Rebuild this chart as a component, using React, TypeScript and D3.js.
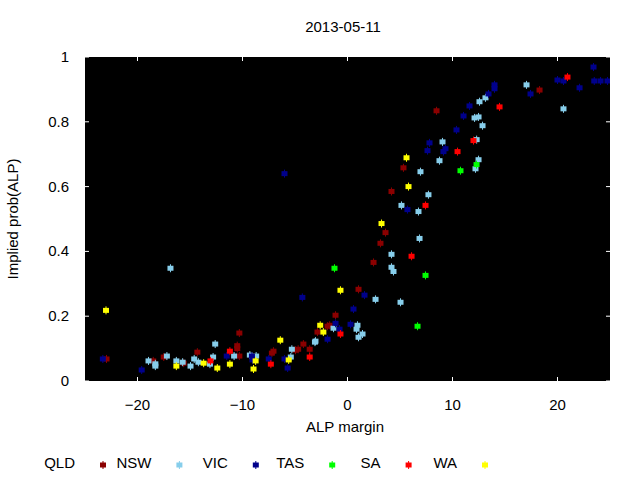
import React from "react";
import * as d3 from "d3";

type Pt = [number, number];

// 시리즈별 데이터 (ALP margin, implied prob)
const qld: Pt[] = [
  [-22.95, 0.068], [-18.5, 0.062], [-17.5, 0.074], [-15.6, 0.055], [-14.3, 0.089],
  [-10.3, 0.077], [-10.5, 0.109], [-10.5, 0.1], [-10.3, 0.148], [-7.2, 0.086],
  [-7.05, 0.092], [-4.95, 0.095], [-4.7, 0.098], [-4.2, 0.114], [-3.6, 0.098],
  [-2.86, 0.151], [-1.9, 0.169], [-1.7, 0.172], [-1.14, 0.203], [1.05, 0.283],
  [2.48, 0.366], [3.14, 0.425], [3.62, 0.458], [4.19, 0.585], [5.33, 0.658],
  [8.48, 0.834], [18.29, 0.898],
];
const nsw: Pt[] = [
  [-16.86, 0.348], [-18.95, 0.062], [-18.3, 0.053], [-18.3, 0.046], [-17.2, 0.077],
  [-16.3, 0.062], [-15.7, 0.058], [-14.95, 0.046], [-14.6, 0.068], [-14.2, 0.058],
  [-13.1, 0.052], [-12.8, 0.074], [-12.6, 0.114], [-10.8, 0.077], [-9.3, 0.08],
  [-8.7, 0.077], [-5.4, 0.074], [-5.3, 0.098], [-3.1, 0.12], [-3.05, 0.123],
  [-1.33, 0.163], [0.86, 0.16], [0.95, 0.172], [1.05, 0.135], [1.43, 0.145],
  [2.67, 0.252], [4.19, 0.391], [4.19, 0.351], [4.38, 0.338], [5.05, 0.243],
  [5.14, 0.542], [6.76, 0.523], [6.86, 0.44], [6.95, 0.646], [7.71, 0.575],
  [8.76, 0.68], [9.05, 0.738], [12.1, 0.812], [12.48, 0.815], [12.3, 0.745],
  [12.48, 0.683], [12.19, 0.655], [12.57, 0.862], [12.86, 0.788], [13.14, 0.874],
  [17.05, 0.914], [20.57, 0.84],
];
const vic: Pt[] = [
  [-23.3, 0.068], [-19.6, 0.034], [-11.5, 0.077], [-9.1, 0.077], [-9.05, 0.065],
  [-7.5, 0.068], [-6.0, 0.068], [-5.7, 0.04], [-6.0, 0.64], [-4.3, 0.258],
  [-1.9, 0.129], [-1.14, 0.178], [-0.76, 0.16], [0.29, 0.175], [0.57, 0.222],
  [1.62, 0.265], [5.71, 0.529], [7.62, 0.711], [7.81, 0.735], [9.14, 0.708],
  [9.33, 0.717], [10.38, 0.775], [11.05, 0.818], [11.62, 0.849], [13.43, 0.886],
  [14.0, 0.914], [14.0, 0.902], [17.43, 0.886], [20.0, 0.929], [20.57, 0.926],
  [22.1, 0.905], [23.43, 0.969], [23.5, 0.926], [24.1, 0.926], [24.76, 0.926],
];
const tas: Pt[] = [
  [-1.24, 0.348], [6.67, 0.169], [7.43, 0.326], [10.76, 0.649], [12.29, 0.668],
];
const sa: Pt[] = [
  [-13.05, 0.062], [-11.2, 0.092], [-7.3, 0.052], [-3.6, 0.074], [-0.67, 0.145],
  [6.1, 0.385], [7.43, 0.542], [10.48, 0.708], [12.0, 0.742], [14.48, 0.846],
  [20.95, 0.938],
];
const wa: Pt[] = [
  [-23.0, 0.218], [-16.3, 0.046], [-13.7, 0.055], [-12.4, 0.04], [-11.2, 0.052],
  [-8.75, 0.062], [-8.95, 0.037], [-6.4, 0.126], [-5.6, 0.065], [-2.6, 0.172],
  [-2.3, 0.151], [-0.67, 0.28], [3.24, 0.486], [5.62, 0.689], [5.81, 0.6],
];

const seriesNames = ["QLD", "NSW", "VIC", "TAS", "SA", "WA"];
const seriesData = [qld, nsw, vic, tas, sa, wa];
const seriesColors = ["#8b0000", "#87ceeb", "#00008b", "#00ff00", "#ff0000", "#ffff00"];

const xTicks = [-20, -10, 0, 10, 20];
const yTicks = [0, 0.2, 0.4, 0.6, 0.8, 1];

const W = 640;
const H = 480;
const plot = { left: 85, right: 610, top: 57, bottom: 381 };
const font = "'Liberation Sans', Arial, sans-serif";

function Marker({ x, y, color }: { x: number; y: number; color: string }) {
  return (
    <g>
      <line x1={x} x2={x} y1={y - 4} y2={y + 4} stroke={color} strokeWidth={1} />
      <rect x={x - 3} y={y - 2.5} width={6} height={5} fill={color} />
    </g>
  );
}

export default function App() {
  const x = d3.scaleLinear().domain([-25, 25]).range([plot.left, plot.right]);
  const y = d3.scaleLinear().domain([0, 1]).range([plot.bottom, plot.top]);
  const fmt = d3.format("");
  const tk = 4;

  return (
    <svg
      width={W}
      height={H}
      style={{ position: "absolute", left: 0, top: 0, background: "#fff" }}
      fontFamily={font}
    >
      <defs>
        <clipPath id="clip">
          <rect x={plot.left} y={plot.top} width={plot.right - plot.left} height={plot.bottom - plot.top} />
        </clipPath>
      </defs>
      <rect x={plot.left} y={plot.top} width={plot.right - plot.left} height={plot.bottom - plot.top} fill="#000" />

      {/* 눈금 */}
      {xTicks.map((t) => (
        <g key={"x" + t}>
          <line x1={x(t)} x2={x(t)} y1={plot.bottom} y2={plot.bottom - tk} stroke="#fff" />
          <line x1={x(t)} x2={x(t)} y1={plot.top} y2={plot.top + tk} stroke="#fff" />
          <text x={x(t)} y={plot.bottom + 29} textAnchor="middle" fontSize={15}>
            {fmt(t)}
          </text>
        </g>
      ))}
      {yTicks.map((t) => (
        <g key={"y" + t}>
          <line x1={plot.left} x2={plot.left + tk} y1={y(t)} y2={y(t)} stroke="#fff" />
          <line x1={plot.right} x2={plot.right - tk} y1={y(t)} y2={y(t)} stroke="#fff" />
          <text x={69} y={y(t) + 5} textAnchor="end" fontSize={15}>
            {fmt(t)}
          </text>
        </g>
      ))}

      {/* 점 */}
      <g clipPath="url(#clip)">
        {seriesData.map((pts, i) =>
          pts.map((p, j) => (
            <Marker key={i + "-" + j} x={x(p[0])} y={y(p[1])} color={seriesColors[i]} />
          ))
        )}
      </g>

      <text x={343} y={32} textAnchor="middle" fontSize={15}>
        2013-05-11
      </text>
      <text x={345} y={432} textAnchor="middle" fontSize={15}>
        ALP margin
      </text>
      <text transform={`translate(18, 219) rotate(-90)`} textAnchor="middle" fontSize={15}>
        Implied prob(ALP)
      </text>

      {/* 범례 */}
      {seriesNames.map((name, i) => {
        const right = 75 + i * 76.4;
        return (
          <g key={name}>
            <text x={right} y={468} textAnchor="end" fontSize={15}>
              {name}
            </text>
            <Marker x={right + 28} y={465} color={seriesColors[i]} />
          </g>
        );
      })}
    </svg>
  );
}
